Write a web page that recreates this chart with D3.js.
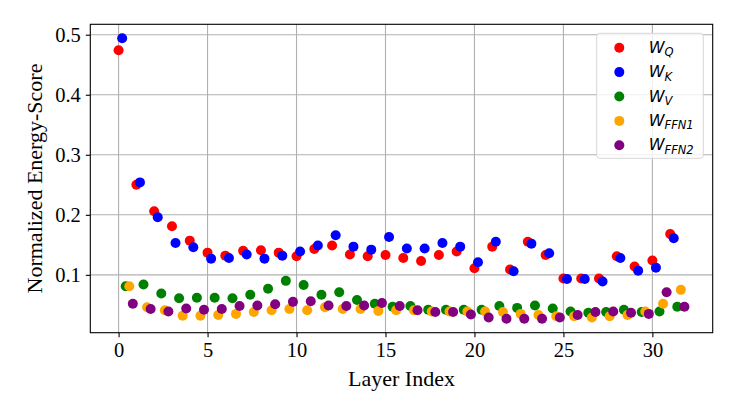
<!DOCTYPE html>
<html>
<head>
<meta charset="utf-8">
<script src="https://cdn.jsdelivr.net/npm/d3@7"></script>
<style>
  body { margin: 0; background: #fff; }
  svg { display: block; }
</style>
</head>
<body>
<svg id="chart" width="750" height="398"></svg>
<script>

// layer indices and the five energy-score series
var layers = d3.range(32);

var wQ = [0.474, 0.250, 0.206, 0.181, 0.157, 0.137, 0.132, 0.140, 0.141, 0.137,
          0.131, 0.143, 0.149, 0.134, 0.131, 0.133, 0.128, 0.123, 0.133, 0.139,
          0.111, 0.147, 0.109, 0.155, 0.133, 0.094, 0.094, 0.094, 0.131, 0.114,
          0.124, 0.168];
var wK = [0.494, 0.254, 0.196, 0.153, 0.146, 0.127, 0.128, 0.134, 0.127, 0.132,
          0.139, 0.149, 0.166, 0.147, 0.142, 0.163, 0.144, 0.144, 0.153, 0.147,
          0.121, 0.155, 0.106, 0.152, 0.136, 0.093, 0.093, 0.089, 0.128, 0.107,
          0.112, 0.161];
var wV = [0.081, 0.084, 0.069, 0.061, 0.062, 0.062, 0.061, 0.067, 0.077, 0.090,
          0.083, 0.067, 0.071, 0.058, 0.052, 0.047, 0.048, 0.042, 0.042, 0.042,
          0.042, 0.048, 0.045, 0.049, 0.044, 0.039, 0.037, 0.038, 0.042, 0.038,
          0.039, 0.047];
var wFFN1 = [0.081, 0.046, 0.041, 0.032, 0.032, 0.033, 0.035, 0.038, 0.041, 0.043,
             0.041, 0.046, 0.043, 0.043, 0.040, 0.041, 0.041, 0.039, 0.039, 0.039,
             0.039, 0.038, 0.035, 0.033, 0.031, 0.031, 0.029, 0.031, 0.033, 0.039,
             0.052, 0.075];
var wFFN2 = [0.052, 0.043, 0.039, 0.044, 0.042, 0.043, 0.048, 0.049, 0.051, 0.055,
             0.056, 0.049, 0.048, 0.049, 0.053, 0.048, 0.041, 0.038, 0.038, 0.034,
             0.029, 0.027, 0.027, 0.027, 0.029, 0.033, 0.038, 0.039, 0.037, 0.035,
             0.071, 0.047];

var xTicks = [0, 5, 10, 15, 20, 25, 30],
    yTicks = [0.1, 0.2, 0.3, 0.4, 0.5];

// name / subscript / colour / shift along x
var series = [
    {values: wQ,    sub: "Q",    color: "red",    shift: 0.0},
    {values: wK,    sub: "K",    color: "blue",   shift: 0.2},
    {values: wV,    sub: "V",    color: "green",  shift: 0.4},
    {values: wFFN1, sub: "FFN1", color: "orange", shift: 0.6},
    {values: wFFN2, sub: "FFN2", color: "purple", shift: 0.8}
];

var margin = {top: 24.3, right: 37.3, bottom: 65.3, left: 90.3},
    width = 750 - margin.left - margin.right,
    height = 398 - margin.top - margin.bottom,
    radius = 5;

var svg = d3.select("#chart"),
    g = svg.append("g")
        .attr("transform", "translate(" + margin.left + "," + margin.top + ")");

// matplotlib style 5% padding around the data
var allX = [], allY = [];
series.forEach(function (s) {
    layers.forEach(function (l, i) {
        allX.push(l + s.shift);
        allY.push(s.values[i]);
    });
});
var xExt = d3.extent(allX), yExt = d3.extent(allY),
    xPad = (xExt[1] - xExt[0]) * 0.05,
    yPad = (yExt[1] - yExt[0]) * 0.05;

var x = d3.scaleLinear().domain([xExt[0] - xPad, xExt[1] + xPad]).range([0, width]);
var y = d3.scaleLinear().domain([yExt[0] - yPad, yExt[1] + yPad]).range([height, 0]);

// grid
g.append("g").selectAll("line.vx")
    .data(xTicks).enter().append("line")
    .attr("x1", function (d) { return x(d); })
    .attr("x2", function (d) { return x(d); })
    .attr("y1", 0).attr("y2", height)
    .attr("stroke", "#b0b0b0").attr("stroke-width", 1.1);
g.append("g").selectAll("line.hy")
    .data(yTicks).enter().append("line")
    .attr("y1", function (d) { return y(d); })
    .attr("y2", function (d) { return y(d); })
    .attr("x1", 0).attr("x2", width)
    .attr("stroke", "#b0b0b0").attr("stroke-width", 1.1);

// points
series.forEach(function (s) {
    g.append("g").selectAll("circle")
        .data(layers).enter().append("circle")
        .attr("cx", function (d) { return x(d + s.shift); })
        .attr("cy", function (d, i) { return y(s.values[i]); })
        .attr("r", radius)
        .attr("fill", s.color);
});

// axes
var xAxis = g.append("g")
    .attr("transform", "translate(0," + height + ")")
    .call(d3.axisBottom(x).tickValues(xTicks).tickSize(4.5).tickPadding(5).tickFormat(d3.format("d")));
var yAxis = g.append("g")
    .call(d3.axisLeft(y).tickValues(yTicks).tickSize(4.5).tickPadding(5).tickFormat(d3.format(".1f")));

[xAxis, yAxis].forEach(function (a) {
    a.select(".domain").remove();
    a.selectAll("line").attr("stroke", "#000").attr("stroke-width", 1.1);
    a.selectAll("text")
        .attr("fill", "#000")
        .style("font-family", "'Liberation Serif', 'Times New Roman', serif")
        .style("font-size", "20.5px");
});

// frame
g.append("rect")
    .attr("width", width).attr("height", height)
    .attr("fill", "none").attr("stroke", "#000").attr("stroke-width", 1.1);

// axis titles
svg.append("text")
    .attr("x", margin.left + width / 2).attr("y", 386)
    .attr("text-anchor", "middle")
    .style("font-family", "'Liberation Serif', 'Times New Roman', serif")
    .style("font-size", "22px")
    .text("Layer Index");
svg.append("text")
    .attr("transform", "translate(42," + (margin.top + height / 2) + ") rotate(-90)")
    .attr("text-anchor", "middle")
    .style("font-family", "'Liberation Serif', 'Times New Roman', serif")
    .style("font-size", "22px")
    .text("Normalized Energy-Score");

// legend
var legend = svg.append("g").attr("transform", "translate(596.7,33.3)");
legend.append("rect")
    .attr("width", 106.6).attr("height", 125)
    .attr("rx", 3).attr("ry", 3)
    .attr("fill", "#fff").attr("fill-opacity", 0.8)
    .attr("stroke", "#d6d6d6").attr("stroke-width", 1);

var item = legend.selectAll("g.item")
    .data(series).enter().append("g")
    .attr("transform", function (d, i) { return "translate(0," + (14.4 + i * 24.4) + ")"; });
item.append("circle")
    .attr("cx", 22.6).attr("cy", 0).attr("r", radius)
    .attr("fill", function (d) { return d.color; });
var label = item.append("text")
    .attr("x", 52).attr("y", 5)
    .style("font-family", "'DejaVu Sans', sans-serif")
    .style("font-style", "italic")
    .style("font-size", "16px");
label.append("tspan").text("W");
label.append("tspan")
    .attr("dy", 3.5)
    .style("font-size", "11.5px")
    .text(function (d) { return d.sub; });

</script>
</body>
</html>
